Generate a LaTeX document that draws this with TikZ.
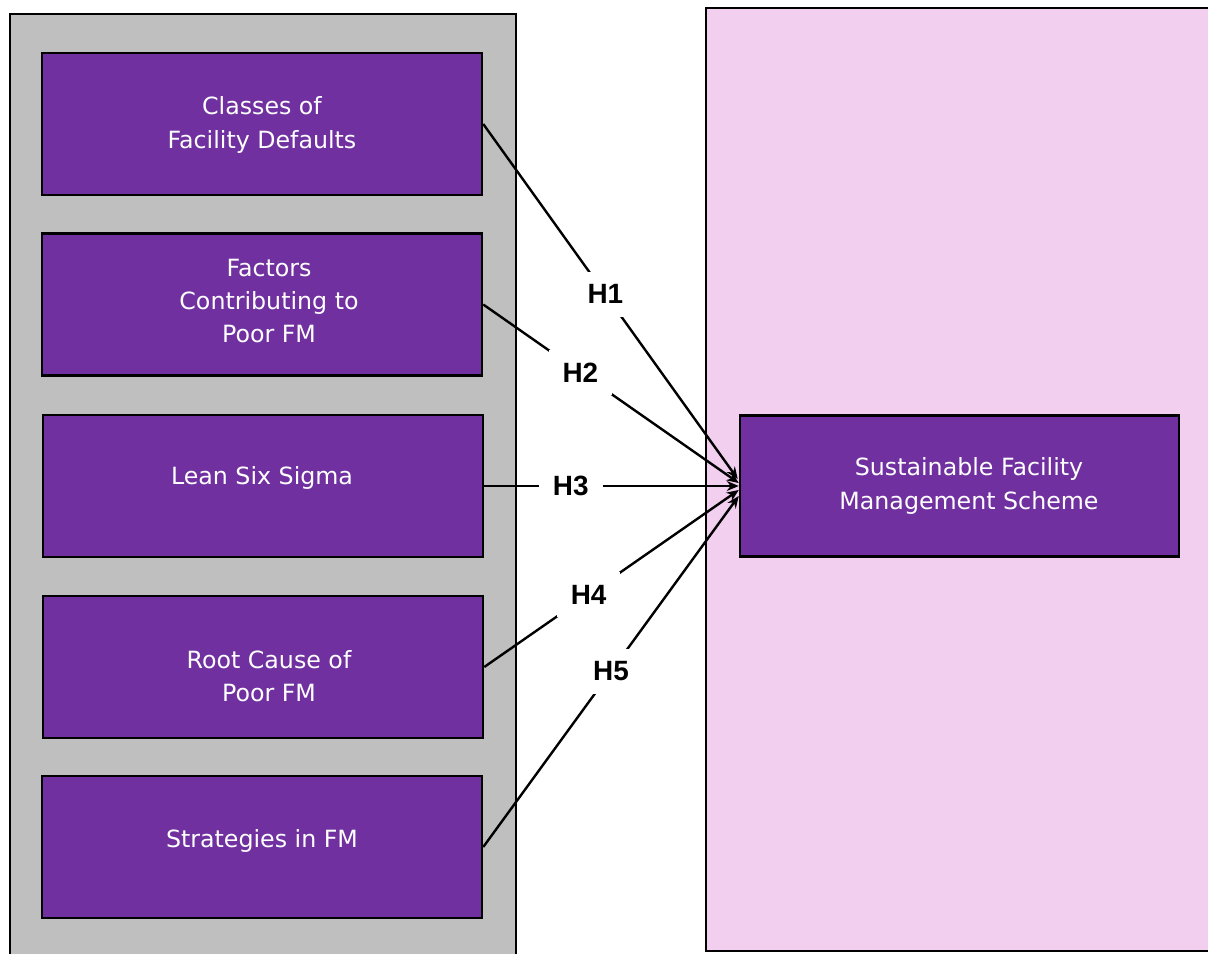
\documentclass[tikz,border=0pt]{standalone}
\usepackage{fontspec}
\setmainfont{DejaVu Sans}
\newfontfamily\labelfont{Liberation Sans}
\usetikzlibrary{arrows.meta,calc}
\definecolor{boxpurple}{HTML}{7030A0}
\definecolor{panelgray}{HTML}{BFBFBF}
\definecolor{panelpink}{HTML}{F2CEEF}
\tikzset{
  panel/.style={draw=black, line width=2.5bp},
  factor/.style={draw=black, line width=2.5bp, fill=boxpurple, minimum width=440bp, minimum height=142bp, inner sep=0pt},
  boxtext/.style={text=white, align=center, font=\fontsize{23.8}{33.5}\selectfont},
  hyp/.style={-{Stealth[length=12bp,width=10bp]}, line width=2.4bp, black},
  hlabel/.style={fill=white, inner xsep=14bp, inner ysep=13bp, font=\labelfont\bfseries\fontsize{28}{28}\selectfont}
}
\begin{document}
\begin{tikzpicture}[x=1bp, y=-1bp]
\useasboundingbox (0,0) rectangle (1208,954);
\clip (0,0) rectangle (1208,954);
% background panels
\fill[white] (0,0) rectangle (1208,954);
\draw[panel, fill=panelgray] (10,14) rectangle (516,970);
\draw[panel, fill=panelpink] (706,8) rectangle (1225,951);
% independent constructs
\node[factor] (b1) at (262,124) {};
\node[factor] (b2) at (262,304.5) {};
\node[factor] (b3) at (263,486) {};
\node[factor] (b4) at (263,667) {};
\node[factor] (b5) at (262,847) {};
\node[boxtext] (t1) at (262,125) {Classes of\\Facility Defaults};
\node[boxtext] (t2) at (269,301) {Factors\\Contributing to\\Poor FM};
\node[boxtext] (t3) at (262,478) {Lean Six Sigma};
\node[boxtext] (t4) at (269,676) {Root Cause of\\Poor FM};
\node[boxtext] (t5) at (262,841) {Strategies in FM};
% dependent construct
\node[factor, minimum width=439bp, minimum height=141bp] (tgt) at (959.5,486) {};
\node[boxtext] (tt) at (969,486) {Sustainable Facility\\Management Scheme};
% hypothesised paths
\draw[hyp] (b1.east) -- ($(tgt.west)+(-1,-7)$) node[hlabel, pos=0.48] (h1) {H1};
\draw[hyp] (b2.east) -- ($(tgt.west)+(0,-3)$) node[hlabel, pos=0.38] (h2) {H2};
\draw[hyp] (b3.east) -- (tgt.west) node[hlabel, pos=0.34] (h3) {H3};
\draw[hyp] (b4.east) -- ($(tgt.west)+(0,4)$) node[hlabel, pos=0.41] (h4) {H4};
\draw[hyp] (b5.east) -- ($(tgt.west)+(0,10)$) node[hlabel, pos=0.5] (h5) {H5};
\end{tikzpicture}
\end{document}
